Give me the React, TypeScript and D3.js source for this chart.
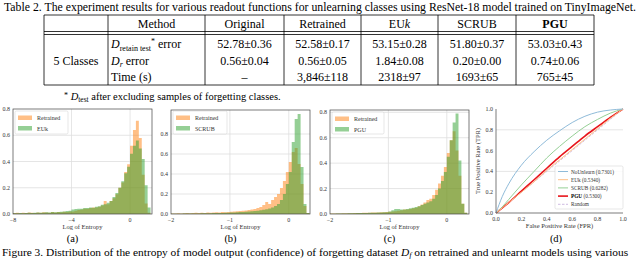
import * as d3 from 'd3';

const SERIF = '"Liberation Serif", "Times New Roman", Times, serif';

// ---- Table 2 ----
const methods = ['Original', 'Retrained', 'EUk', 'SCRUB', 'PGU'];
const retainTestError = ['52.78±0.36', '52.58±0.17', '53.15±0.28', '51.80±0.37', '53.03±0.43'];
const forgetError = ['0.56±0.04', '0.56±0.05', '1.84±0.08', '0.20±0.00', '0.74±0.06'];
const timeSeconds = ['–', '3,846±118', '2318±97', '1693±65', '765±45'];

// ---- Figure 3 histograms (density per bin) ----
const binStartA = -8;
const binWidthA = 0.2;
const retrainedA = [
  0.008, 0.01, 0.006, 0.01, 0.008, 0.012, 0.01, 0.008, 0.012, 0.01, 0.014, 0.012, 0.01, 0.015, 0.012, 0.016, 0.014, 0.018, 0.016, 0.02,
  0.02, 0.025, 0.03, 0.035, 0.04, 0.04, 0.045, 0.05, 0.05, 0.055,
  0.065, 0.1, 0.075, 0.1, 0.12,
  0.15, 0.2, 0.24, 0.32, 0.38,
  0.52, 0.64, 0.71, 0.58, 0.3, 0.08, 0.01,
];
const eukA = [
  0.005, 0.006, 0.008, 0.006, 0.008, 0.01, 0.008, 0.01, 0.012, 0.01, 0.012, 0.014, 0.012, 0.015, 0.014, 0.016, 0.018, 0.02, 0.022, 0.025,
  0.035, 0.038, 0.04, 0.04, 0.045, 0.045, 0.05, 0.048, 0.055, 0.06,
  0.07, 0.075, 0.085, 0.1, 0.13,
  0.16, 0.2, 0.25, 0.31, 0.36,
  0.46, 0.52, 0.56, 0.5, 0.42, 0.22, 0.05,
];

const binStartBC = -2;
const binWidthBC = 0.05;
const retrainedB = [
  0.005, 0.006, 0.008, 0.006, 0.008, 0.01, 0.008, 0.01, 0.012, 0.01, 0.012, 0.01, 0.015, 0.012, 0.015, 0.018, 0.015, 0.02, 0.018, 0.02,
  0.022, 0.025, 0.028, 0.03, 0.032, 0.035, 0.04, 0.045, 0.05, 0.06,
  0.07, 0.09, 0.12, 0.1, 0.14,
  0.17, 0.2, 0.26, 0.33, 0.42,
  0.52, 0.62, 0.66, 0.5, 0.3, 0.08, 0.01,
];
const scrubB = [
  0.002, 0.002, 0.003, 0.003, 0.004, 0.004, 0.005, 0.005, 0.006, 0.006, 0.007, 0.007, 0.008, 0.008, 0.009, 0.01, 0.01, 0.011, 0.012, 0.013,
  0.014, 0.015, 0.017, 0.02, 0.02, 0.022, 0.025, 0.028, 0.03, 0.033,
  0.037, 0.042, 0.048, 0.055, 0.065,
  0.08, 0.1, 0.14, 0.2, 0.3,
  0.42, 0.72, 0.95, 1.0, 0.47, 0.1, 0.01,
];
const retrainedC = [
  0.003, 0.003, 0.004, 0.004, 0.005, 0.005, 0.006, 0.006, 0.007, 0.007, 0.008, 0.009, 0.01, 0.01, 0.011, 0.012, 0.012, 0.013, 0.014, 0.015,
  0.017, 0.02, 0.022, 0.025, 0.03, 0.035, 0.035, 0.04, 0.045, 0.05,
  0.06, 0.075, 0.09, 0.11, 0.12,
  0.15, 0.19, 0.24, 0.3, 0.37,
  0.48, 0.58, 0.65, 0.5, 0.3, 0.08, 0.01,
];
const pguC = [
  0.002, 0.002, 0.003, 0.003, 0.004, 0.004, 0.005, 0.005, 0.006, 0.007, 0.007, 0.008, 0.008, 0.009, 0.01, 0.01, 0.011, 0.012, 0.013, 0.014,
  0.02, 0.03, 0.04, 0.04, 0.035, 0.035, 0.04, 0.045, 0.05, 0.055,
  0.06, 0.07, 0.08, 0.09, 0.1,
  0.12, 0.15, 0.2, 0.26, 0.33,
  0.45, 0.58, 0.72, 0.79, 0.42, 0.08, 0.01,
];

// ---- ROC curves ----
const fpr = [0, 0.05, 0.1, 0.2, 0.3, 0.4, 0.5, 0.6, 0.7, 0.8, 0.9, 1];
const tprNoUnlearn = [0, 0.16, 0.28, 0.46, 0.59, 0.7, 0.79, 0.87, 0.93, 0.97, 0.99, 1];
const tprEUk = [0, 0.05, 0.1, 0.2, 0.3, 0.41, 0.51, 0.61, 0.71, 0.81, 0.91, 1];
const tprSCRUB = [0, 0.06, 0.13, 0.27, 0.4, 0.53, 0.64, 0.74, 0.83, 0.9, 0.96, 1];
const tprPGU = [0, 0.05, 0.1, 0.21, 0.32, 0.43, 0.54, 0.64, 0.74, 0.83, 0.92, 1];
const tprRandom = [0, 0.05, 0.1, 0.2, 0.3, 0.4, 0.5, 0.6, 0.7, 0.8, 0.9, 1];

const ORANGE = '#ff7f0e';
const GREEN = '#2ca02c';
const GRID = '#dedede';
const SPINE = '#444';
const TICK = '#333';

const fmt = d3.format('.1f');

interface Series { label: string; values: number[]; color: string; }

interface HistProps {
  id: string;
  left: number; right: number; top: number; bottom: number;
  xDomain: [number, number];
  yMax: number;
  binStart: number;
  binWidth: number;
  series: Series[];
  xTicks: number[];
  xTickLabels: string[];
  yTicks: number[];
  legend: { x: number; y: number; w: number; h: number };
  tag: string;
}

const HistPanel = (p: HistProps) => {
  const x = d3.scaleLinear().domain(p.xDomain).range([p.left, p.right]);
  const y = d3.scaleLinear().domain([0, p.yMax]).range([p.bottom, p.top]);
  const area = d3.area<[number, number]>()
    .x(d => x(d[0]))
    .y0(p.bottom)
    .y1(d => y(d[1]))
    .curve(d3.curveStepAfter);
  const cx = (p.left + p.right) / 2;

  return (
    <g>
      <defs>
        <clipPath id={p.id}>
          <rect x={p.left} y={p.top} width={p.right - p.left} height={p.bottom - p.top} />
        </clipPath>
      </defs>
      {/* grid */}
      {p.xTicks.filter(t => x(t) > p.left + 1).map(t => (
        <line key={'gx' + t} x1={x(t)} x2={x(t)} y1={p.top} y2={p.bottom} stroke={GRID} strokeWidth={0.8} />
      ))}
      {p.yTicks.filter(t => y(t) < p.bottom - 1 && y(t) > p.top + 1).map(t => (
        <line key={'gy' + t} x1={p.left} x2={p.right} y1={y(t)} y2={y(t)} stroke={GRID} strokeWidth={0.8} />
      ))}
      {/* bars */}
      <g clipPath={`url(#${p.id})`}>
        {p.series.map(s => {
          const pts: [number, number][] = s.values.map((v, i) => [p.binStart + i * p.binWidth, v]);
          pts.push([p.binStart + s.values.length * p.binWidth, s.values[s.values.length - 1]]);
          return <path key={s.label} d={area(pts) || ''} fill={s.color} fillOpacity={0.5} />;
        })}
      </g>
      {/* frame */}
      <rect x={p.left} y={p.top} width={p.right - p.left} height={p.bottom - p.top} fill="none" stroke={SPINE} strokeWidth={0.7} />
      {/* ticks */}
      {p.xTicks.map((t, i) => (
        <text key={'tx' + t} x={x(t)} y={p.bottom + 8} fontSize={6} fill={TICK} textAnchor="middle">{p.xTickLabels[i]}</text>
      ))}
      {p.yTicks.map(t => (
        <text key={'ty' + t} x={p.left - 3} y={y(t) + 2} fontSize={6} fill={TICK} textAnchor="end">{fmt(t)}</text>
      ))}
      <text x={cx} y={p.bottom + 14.5} fontSize={6.5} fill={TICK} textAnchor="middle">Log of Entropy</text>
      {/* legend */}
      <rect x={p.legend.x} y={p.legend.y} width={p.legend.w} height={p.legend.h} rx={1.5}
        fill="#fff" fillOpacity={0.85} stroke="#cfcfcf" strokeWidth={0.5} />
      {p.series.map((s, i) => (
        <g key={'lg' + s.label}>
          <rect x={p.legend.x + 3} y={p.legend.y + 4.5 + i * 10.5} width={14} height={4.5} fill={s.color} fillOpacity={0.5} />
          <text x={p.legend.x + 22} y={p.legend.y + 9 + i * 10.5} fontSize={6} fill={TICK}>{s.label}</text>
        </g>
      ))}
      <text x={cx - 10} y={242} fontSize={10.5} fill="#000" textAnchor="middle">{p.tag}</text>
    </g>
  );
};

const RocPanel = () => {
  const left = 496, right = 623, top = 109, bottom = 213;
  const x = d3.scaleLinear().domain([0, 1]).range([left, right]);
  const y = d3.scaleLinear().domain([0, 1]).range([bottom, top]);
  const line = d3.line<number>()
    .x((_, i) => x(fpr[i]))
    .y(d => y(d))
    .curve(d3.curveMonotoneX);
  const curves = [
    { label: 'NoUnlearn', auc: '(0.7301)', values: tprNoUnlearn, color: '#8fbbd9', width: 1, dash: '', bold: false },
    { label: 'EUk', auc: '(0.5340)', values: tprEUk, color: '#ffbf86', width: 1, dash: '', bold: false },
    { label: 'SCRUB', auc: '(0.6282)', values: tprSCRUB, color: '#95cf95', width: 1, dash: '', bold: false },
    { label: 'PGU', auc: '(0.5300)', values: tprPGU, color: '#e8151b', width: 1.6, dash: '', bold: true },
    { label: 'Random', auc: '', values: tprRandom, color: '#c9b3de', width: 0.9, dash: '2.5,1.5', bold: false },
  ];
  const ticks = [0, 0.2, 0.4, 0.6, 0.8, 1.0];
  const lx = 555, ly = 166;
  return (
    <g>
      {[0.4, 0.8].map(t => (
        <line key={'g' + t} x1={left} x2={right} y1={y(t)} y2={y(t)} stroke={GRID} strokeWidth={0.8} />
      ))}
      {[...curves].reverse().map(c => (
        <path key={c.label} d={line(c.values) || ''} fill="none" stroke={c.color} strokeWidth={c.width}
          strokeDasharray={c.dash || undefined} />
      ))}
      <line x1={left} x2={left} y1={top} y2={bottom} stroke={SPINE} strokeWidth={0.7} />
      <line x1={left} x2={right} y1={bottom} y2={bottom} stroke={SPINE} strokeWidth={0.7} />
      {ticks.map(t => (
        <text key={'tx' + t} x={x(t)} y={bottom + 8} fontSize={6} fill={TICK} textAnchor="middle">{fmt(t)}</text>
      ))}
      {ticks.map(t => (
        <text key={'ty' + t} x={left - 3} y={y(t) + 2} fontSize={6} fill={TICK} textAnchor="end">{fmt(t)}</text>
      ))}
      <text x={(left + right) / 2} y={bottom + 14.5} fontSize={6.5} fill={TICK} textAnchor="middle">False Positive Rate (FPR)</text>
      <text transform={`translate(480,${(top + bottom) / 2}) rotate(-90)`} fontSize={6.5} fill={TICK} textAnchor="middle">True Positive Rate (TPR)</text>
      <rect x={lx} y={ly} width={68} height={43} rx={1.5} fill="#fff" fillOpacity={0.85} stroke="#cfcfcf" strokeWidth={0.5} />
      {curves.map((c, i) => (
        <g key={'lg' + c.label}>
          <line x1={lx + 3} x2={lx + 13} y1={ly + 5.5 + i * 8.2} y2={ly + 5.5 + i * 8.2} stroke={c.color}
            strokeWidth={c.width} strokeDasharray={c.dash || undefined} />
          <text x={lx + 16} y={ly + 7.5 + i * 8.2} fontSize={5.3} fill={TICK}>
            <tspan fontWeight={c.bold ? 'bold' : 'normal'} fill={c.bold ? '#000' : TICK}>{c.label}</tspan>
            {c.auc ? ' ' + c.auc : ''}
          </text>
        </g>
      ))}
      <text x={556} y={242} fontSize={10.5} fill="#000" textAnchor="middle">(d)</text>
    </g>
  );
};

const TableBlock = () => {
  const edges = [44, 108, 205, 284, 361, 438, 516, 594];
  const top = 15, dbl1 = 31.5, dbl2 = 34.5, bottom = 85;
  const colCenter = (i: number) => (edges[i] + edges[i + 1]) / 2;
  const rowsY = [48, 64.5, 81];
  const rows = [retainTestError, forgetError, timeSeconds];
  return (
    <g fontFamily={SERIF} fill="#000">
      <text x={4} y={10.5} fontSize={11.5} textLength={632} lengthAdjust="spacingAndGlyphs">
        Table 2. The experiment results for various readout functions for unlearning classes using ResNet-18 model trained on TinyImageNet.
      </text>
      {[top, dbl1, dbl2, bottom].map((yy, i) => (
        <line key={'h' + i} x1={edges[0]} x2={edges[edges.length - 1]} y1={yy} y2={yy} stroke="#000" strokeWidth={0.8} />
      ))}
      {edges.map((xx, i) => (
        <line key={'v' + i} x1={xx} x2={xx} y1={top} y2={bottom} stroke="#000" strokeWidth={0.8} />
      ))}
      <text x={colCenter(1)} y={27.5} fontSize={12} textAnchor="middle">Method</text>
      {methods.map((m, i) => (
        <text key={m} x={colCenter(i + 2)} y={27.5} fontSize={12} textAnchor="middle" fontWeight={m === 'PGU' ? 'bold' : 'normal'}>
          {m === 'EUk' ? <>EU<tspan fontStyle="italic">k</tspan></> : m}
        </text>
      ))}
      <text x={colCenter(0)} y={rowsY[1]} fontSize={12} textAnchor="middle">5 Classes</text>
      <text x={111} y={rowsY[0]} fontSize={12}>
        <tspan fontStyle="italic">D</tspan>
        <tspan fontSize={8} dy={2.5}>retain test</tspan>
        <tspan fontSize={8} dy={-7}>*</tspan>
        <tspan dy={4.5}> error</tspan>
      </text>
      <text x={111} y={rowsY[1]} fontSize={12}>
        <tspan fontStyle="italic">D</tspan>
        <tspan fontSize={8} fontStyle="italic" dy={2.5}>r</tspan>
        <tspan dy={-2.5}> error</tspan>
      </text>
      <text x={111} y={rowsY[2]} fontSize={12}>Time (s)</text>
      {rows.map((r, ri) => r.map((v, ci) => (
        <text key={ri + '-' + ci} x={colCenter(ci + 2)} y={rowsY[ri]} fontSize={12} textAnchor="middle">{v}</text>
      )))}
      <text x={64} y={100} fontSize={10.5}>
        <tspan fontSize={8} dy={-2.5}>*</tspan>
        <tspan dy={2.5}> </tspan>
        <tspan fontStyle="italic">D</tspan>
        <tspan fontSize={7.5} dy={2}>test</tspan>
        <tspan dy={-2}> after excluding samples of forgetting classes.</tspan>
      </text>
      <text x={2} y={255.5} fontSize={11.4}>
        Figure 3. Distribution of the entropy of model output (confidence) of forgetting dataset <tspan fontStyle="italic">D</tspan>
        <tspan fontSize={8} fontStyle="italic" dy={2}>f</tspan>
        <tspan dy={-2}> on retrained and unlearnt models using various</tspan>
      </text>
    </g>
  );
};

const App = () => {
  return (
    <svg width={640} height={259} style={{ position: 'absolute', left: 0, top: 0, background: '#fff' }} fontFamily={SERIF}>
      <rect width={640} height={259} fill="#fff" />
      <TableBlock />
      <HistPanel
        id="clipA" left={13} right={152} top={109} bottom={214}
        xDomain={[-8, 1.5]} yMax={0.8}
        binStart={binStartA} binWidth={binWidthA}
        series={[{ label: 'Retrained', values: retrainedA, color: ORANGE }, { label: 'EUk', values: eukA, color: GREEN }]}
        xTicks={[-8, -4, 0]} xTickLabels={['−8', '−4', '0']}
        yTicks={[0, 0.2, 0.4, 0.6, 0.8]}
        legend={{ x: 15, y: 111, w: 53, h: 23 }}
        tag="(a)"
      />
      <HistPanel
        id="clipB" left={171} right={310} top={110} bottom={214}
        xDomain={[-2, 0.36]} yMax={1.04}
        binStart={binStartBC} binWidth={binWidthBC}
        series={[{ label: 'Retrained', values: retrainedB, color: ORANGE }, { label: 'SCRUB', values: scrubB, color: GREEN }]}
        xTicks={[-2, -1, 0]} xTickLabels={['−2', '−1', '0']}
        yTicks={[0, 0.2, 0.4, 0.6, 0.8]}
        legend={{ x: 173, y: 111, w: 54, h: 23 }}
        tag="(b)"
      />
      <HistPanel
        id="clipC" left={330} right={469} top={110} bottom={214}
        xDomain={[-2, 0.38]} yMax={0.818}
        binStart={binStartBC} binWidth={binWidthBC}
        series={[{ label: 'Retrained', values: retrainedC, color: ORANGE }, { label: 'PGU', values: pguC, color: GREEN }]}
        xTicks={[-2, -1, 0]} xTickLabels={['−2', '−1', '0']}
        yTicks={[0, 0.2, 0.4, 0.6, 0.8]}
        legend={{ x: 332, y: 112, w: 52, h: 22 }}
        tag="(c)"
      />
      <RocPanel />
    </svg>
  );
};

export default App;
